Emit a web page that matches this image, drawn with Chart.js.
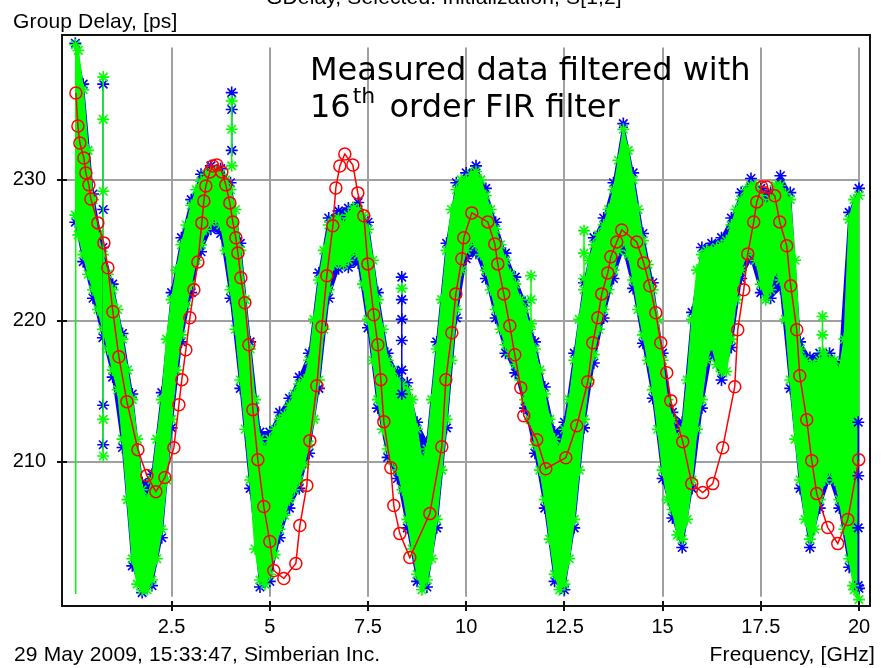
<!DOCTYPE html>
<html><head><meta charset="utf-8">
<script src="https://cdn.jsdelivr.net/npm/chart.js@4/dist/chart.umd.min.js"></script>
<style>
html,body{margin:0;padding:0;background:#fff;}
#wrap{position:relative;width:881px;height:668px;overflow:hidden;background:#fff;}
#c{position:absolute;left:0;top:0;}
.t{position:absolute;white-space:nowrap;font-family:"Liberation Sans",Arial,sans-serif;font-size:21px;line-height:21px;letter-spacing:0.15px;color:#000;}
.ann{position:absolute;white-space:nowrap;font-family:"DejaVu Sans",Verdana,sans-serif;font-size:32px;line-height:32px;color:#000;}
</style></head><body>
<div id="wrap">
<canvas id="c" width="881" height="668"></canvas>
<div class="t" style="left:266px;top:-14px;">GDelay, Selected: Initialization, S[1,2]</div>
<div class="t" style="left:13px;top:10px;">Group Delay, [ps]</div>
<div class="t" style="left:14px;top:643px;">29 May 2009, 15:33:47, Simberian Inc.</div>
<div class="t" style="right:6px;top:643px;">Frequency, [GHz]</div>
<div class="ann" style="left:310px;top:53px;">Measured data filtered with</div>
<div class="ann" style="left:310px;top:90px;">16<span style="font-size:22px;position:relative;top:-14px;margin-left:2px;margin-right:4px;">th</span> order FIR filter</div>
</div>
<script>
// ---- axis ticks ----
const xTicks = [2.5, 5, 7.5, 10, 12.5, 15, 17.5, 20];
const yTicks = [210, 220, 230];
const xRange = [-0.29, 20.28];
const yRange = [199.75, 240.29];
const gridSpanX = [-0.29, 20.0];
const gridSpanY = [200.4, 239.4];

// ---- measured data (green), upper and lower envelope of the trace ----
const greenFreq = [0.05,0.125,0.25,0.375,0.5,0.625,0.75,0.875,1,1.125,1.25,1.375,1.5,1.625,1.75,1.875,2,2.125,2.25,2.375,2.5,2.625,2.75,2.875,3,3.125,3.25,3.375,3.5,3.625,3.75,3.875,4,4.125,4.25,4.375,4.5,4.625,4.75,4.875,5,5.125,5.25,5.375,5.5,5.625,5.75,5.875,6,6.125,6.25,6.375,6.5,6.625,6.75,6.875,7,7.125,7.25,7.375,7.5,7.625,7.75,7.875,8,8.125,8.25,8.375,8.5,8.625,8.75,8.875,9,9.125,9.25,9.375,9.5,9.625,9.75,9.875,10,10.125,10.25,10.375,10.5,10.625,10.75,10.875,11,11.125,11.25,11.375,11.5,11.625,11.75,11.875,12,12.125,12.25,12.375,12.5,12.625,12.75,12.875,13,13.125,13.25,13.375,13.5,13.625,13.75,13.875,14,14.125,14.25,14.375,14.5,14.625,14.75,14.875,15,15.125,15.25,15.375,15.5,15.625,15.75,15.875,16,16.125,16.25,16.375,16.5,16.625,16.75,16.875,17,17.125,17.25,17.375,17.5,17.625,17.75,17.875,18,18.125,18.25,18.375,18.5,18.625,18.75,18.875,19,19.125,19.25,19.375,19.5,19.625,19.75,19.875,20];
const greenHi = [239.6,239.2,236.4,232.1,228.6,226.1,224.7,223.3,222.2,220.8,218.7,216.5,214.4,211.6,208.0,207.3,208.7,211.6,214.4,218.7,221.5,223.6,225.4,226.8,228.2,229.3,229.9,230.4,230.6,230.6,230.4,230.0,229.3,227.9,225.0,221.5,218.0,214.4,211.6,210.9,211.6,212.3,213.0,213.3,214.0,214.8,215.5,215.8,217.2,220.1,222.9,225.0,226.8,227.2,227.3,226.8,227.5,228.0,227.9,227.5,226.5,224.3,221.5,219.4,217.2,216.5,215.8,215.5,215.1,214.4,212.3,210.1,210.9,214.4,218.0,221.5,225.0,227.9,229.3,230.0,230.0,230.4,230.6,230.0,228.9,227.9,226.5,225.4,224.3,223.3,222.6,221.5,220.8,219.4,218.0,216.5,214.8,213.0,211.6,210.9,212.3,214.4,217.2,220.1,222.2,224.3,225.4,226.1,226.8,227.9,229.3,231.4,233.6,232.1,230.0,227.9,225.7,224.0,222.2,220.1,217.2,214.4,213.0,211.6,212.3,215.8,220.1,223.6,224.7,225.0,225.0,225.2,225.4,225.7,226.8,227.9,228.6,229.3,229.6,229.6,228.9,228.2,228.6,229.6,229.6,229.0,228.6,224.3,218.0,217.2,216.9,216.9,217.2,217.6,217.2,217.2,216.5,218.7,227.2,228.6,228.9];
const greenLo = [227.5,226.1,224.7,223.3,222.2,220.8,219.4,218.0,216.5,215.1,211.6,207.3,203.1,201.3,200.9,200.9,201.6,203.1,205.2,208.7,213.0,216.5,219.0,221.1,222.6,224.3,225.4,226.5,227.0,227.3,226.8,225.0,222.2,219.4,215.8,212.3,208.7,203.8,201.6,201.3,202.0,203.4,205.2,206.2,207.3,208.0,208.7,209.8,211.2,213.0,215.8,219.4,222.2,224.0,224.2,224.0,224.3,225.0,224.7,222.6,220.1,217.2,214.4,212.3,210.9,210.1,209.4,208.0,205.9,203.8,202.0,200.9,201.6,203.1,205.9,209.4,213.0,217.2,220.8,223.6,225.0,225.7,225.4,224.7,223.6,222.2,220.8,219.4,218.3,217.6,216.9,215.8,214.4,213.0,211.2,209.4,207.3,204.5,202.0,200.9,201.3,203.1,205.9,209.4,213.0,215.8,217.6,219.4,220.8,222.2,223.6,225.0,225.7,224.7,222.9,220.8,219.0,217.2,215.1,212.3,209.4,207.3,206.6,204.8,204.5,205.9,208.7,212.3,214.4,217.2,218.3,216.9,216.4,216.4,218.7,221.5,223.6,224.7,225.0,224.3,222.6,221.5,222.2,223.6,222.9,220.1,215.8,211.6,208.7,205.9,204.5,205.2,207.3,208.7,209.4,208.7,207.3,205.2,203.1,200.9,200.2];

// ---- measured data (blue), upper and lower envelope ----
const blueFreq = [0.05,0.25,0.5,0.75,1,1.25,1.5,1.75,2,2.25,2.5,2.75,3,3.25,3.5,3.75,4,4.25,4.5,4.75,5,5.25,5.5,5.75,6,6.25,6.5,6.75,7,7.25,7.5,7.75,8,8.25,8.5,8.75,9,9.25,9.5,9.75,10,10.25,10.5,10.75,11,11.25,11.5,11.75,12,12.25,12.5,12.75,13,13.25,13.5,13.75,14,14.25,14.5,14.75,15,15.25,15.5,15.75,16,16.25,16.5,16.75,17,17.25,17.5,17.75,18,18.25,18.5,18.75,19,19.25,19.5,19.75,20];
const blueHi = [239.7,236.8,229.0,225.2,222.6,219.1,214.8,208.5,209.1,214.9,222.0,225.9,228.6,230.4,231.0,230.8,229.8,225.5,218.5,212.1,212.1,213.5,214.5,216.0,217.7,223.4,227.3,227.8,228.0,228.4,227.0,222.0,217.7,216.3,215.6,212.8,211.4,218.5,225.5,229.8,230.5,231.0,229.4,227.0,224.8,223.1,221.3,218.5,215.3,212.1,212.8,217.7,222.7,225.9,227.3,229.8,234.0,230.5,226.2,222.7,217.7,213.5,212.8,220.6,225.2,225.5,225.9,227.3,229.1,230.1,229.4,229.1,230.3,229.1,218.5,217.4,217.7,217.7,217.0,227.7,229.4];
const blueLo = [227.0,224.2,221.6,218.8,216.0,211.0,202.6,200.7,201.2,204.6,212.4,218.5,222.0,224.9,226.5,226.2,221.6,215.2,208.1,201.1,201.5,204.6,206.7,208.1,210.6,215.2,221.6,223.7,223.8,224.1,219.5,213.8,210.3,208.8,205.3,201.5,201.1,205.3,212.4,220.2,224.4,224.8,223.0,220.2,217.7,216.3,213.8,210.6,206.7,201.5,200.9,205.3,212.4,217.0,220.2,223.0,225.1,222.3,218.4,214.5,208.8,206.0,203.9,208.1,213.8,217.7,215.8,218.1,223.0,224.4,222.0,221.6,222.3,215.2,208.1,203.9,206.7,208.8,206.7,202.5,201.0];

// ---- isolated excursions of the measured traces (null = break) ----
const greenEdgeFreq = [0.06, 0.06];
const greenEdgeDelay = [200.6, 239.3];
const greenSpikeFreq = [0.76,0.76,0.76,0.76,0.76, 4.03, 4.03,4.03,4.03, 8.36, 8.36, 11.65, 11.65,11.65,11.65, 13.0, 13.0,13.0,13.0, 19.07, 19.07,19.07,19.07, 19.85, 19.85];
const greenSpikeDelay = [237.3,234.3,229.2,213.0,210.4, null, 235.6,233.6,231.0, null, 222.3, null, 223.2,221.5,219.8, null, 226.4,224.8,223.0, null, 220.3,219.0,217.8, null, 201.2];
const blueSpikeFreq = [0.76,0.76,0.76,0.76, 4.03, 4.03,4.03,4.03, 8.36, 8.36,8.36,8.36,8.36,8.36,8.36, 19.98, 19.98,19.98,19.98,19.98];
const blueSpikeDelay = [236.8,227.9,214.0,211.2, null, 236.2,235.0,232.1, null, 223.1,221.5,220.1,218.6,216.5,214.8, null, 212.8,209.0,205.3,201.2];

// ---- filtered data (red) ----
const redFreq = [0.064,0.115,0.165,0.267,0.318,0.394,0.445,0.623,0.776,0.878,1.005,1.158,1.362,1.642,1.871,2.1,2.329,2.558,2.685,2.761,2.863,2.965,3.067,3.169,3.27,3.321,3.372,3.474,3.55,3.652,3.78,3.88,3.983,4.059,4.136,4.187,4.263,4.365,4.467,4.568,4.696,4.848,5.0,5.103,5.357,5.663,5.765,5.943,6.019,6.197,6.325,6.452,6.605,6.681,6.783,6.91,7.114,7.241,7.394,7.496,7.648,7.75,7.827,7.903,8.081,8.157,8.31,8.565,9.074,9.379,9.481,9.634,9.736,9.888,9.939,10.143,10.55,10.728,10.804,10.957,11.11,11.237,11.39,11.466,11.797,12.027,12.536,12.815,13.095,13.222,13.35,13.451,13.604,13.681,13.833,13.96,14.342,14.52,14.673,14.826,14.953,15.106,15.208,15.513,15.742,16.022,16.277,16.531,16.837,16.913,17.066,17.168,17.32,17.397,17.524,17.651,17.855,17.982,18.16,18.262,18.415,18.491,18.669,18.797,18.924,19.204,19.459,19.713,19.993];
const redDelay = [236.17,233.83,232.62,231.56,230.5,229.65,228.65,226.95,225.53,223.76,220.64,217.45,214.26,210.85,209.01,207.87,208.87,210.99,214.04,215.82,217.94,220.21,222.2,224.18,226.95,228.51,229.57,230.57,230.99,231.06,230.57,229.65,228.37,227.02,225.89,224.82,223.05,221.28,218.3,213.69,210.14,206.81,204.33,202.27,201.7,202.77,205.46,208.3,211.49,215.39,219.57,223.19,226.74,229.43,230.99,231.84,231.06,229.08,227.45,224.04,220.43,218.3,215.82,212.84,209.57,206.88,204.89,203.19,206.31,211.06,215.82,219.15,221.91,224.4,225.89,227.66,227.02,225.46,224.04,221.91,219.65,217.59,215.25,213.26,211.56,209.5,210.28,212.55,215.67,218.44,220.21,221.91,223.4,224.54,225.6,226.45,225.6,224.11,222.48,220.57,218.44,216.31,214.33,211.42,208.44,207.8,208.44,210.99,215.32,219.36,222.2,224.75,227.02,228.44,229.5,229.5,228.87,227.02,225.32,222.48,219.36,216.1,212.98,210.07,207.73,205.32,204.18,205.89,210.14];

const pts = (xs, ys) => xs.map((x, i) => ({x: x, y: ys[i]}));
const GREEN = '#00ff00', BLUE = '#0000ff', RED = '#ff0000';

const starSet = (label, data, color, order, extra) => Object.assign({
  label, data, order,
  borderColor: color, borderWidth: 1.5,
  pointStyle: 'star', pointRadius: 6, pointBorderColor: color, pointBorderWidth: 1.6,
  pointBackgroundColor: color, fill: false, tension: 0, spanGaps: false
}, extra || {});

const datasets = [
  { label: 'filtered', data: pts(redFreq, redDelay), order: 0,
    borderColor: RED, borderWidth: 1.5, pointStyle: 'circle', pointRadius: 6,
    pointBorderColor: RED, pointBorderWidth: 1.5, pointBackgroundColor: 'rgba(0,0,0,0)', fill: false, tension: 0 },
  starSet('green spikes', pts(greenSpikeFreq, greenSpikeDelay), GREEN, 1),
  starSet('blue spikes', pts(blueSpikeFreq, blueSpikeDelay), BLUE, 2),
  starSet('green edge', pts(greenEdgeFreq, greenEdgeDelay), GREEN, 3, {pointRadius: 0}),
  starSet('green hi', pts(greenFreq, greenHi), GREEN, 4, {fill: 5, backgroundColor: GREEN}),
  starSet('green lo', pts(greenFreq, greenLo), GREEN, 5),
  starSet('blue hi', pts(blueFreq, blueHi), BLUE, 6, {fill: 7, backgroundColor: BLUE}),
  starSet('blue lo', pts(blueFreq, blueLo), BLUE, 7)
];

const gridPlugin = {
  id: 'gridlines',
  beforeDatasetsDraw(chart) {
    const {ctx, scales: {x, y}} = chart;
    ctx.save();
    ctx.strokeStyle = '#a0a0a0';
    ctx.lineWidth = 2;
    ctx.beginPath();
    const y0 = y.getPixelForValue(gridSpanY[0]), y1 = y.getPixelForValue(gridSpanY[1]);
    const x0 = x.getPixelForValue(gridSpanX[0]), x1 = x.getPixelForValue(gridSpanX[1]);
    xTicks.forEach(v => { const p = Math.round(x.getPixelForValue(v)); ctx.moveTo(p, y1); ctx.lineTo(p, y0); });
    yTicks.forEach(v => { const p = Math.round(y.getPixelForValue(v)); ctx.moveTo(x0, p); ctx.lineTo(x1, p); });
    ctx.stroke();
    ctx.restore();
  }
};

const frame = {
  id: 'frame',
  afterDraw(chart) {
    const {ctx, chartArea: a, scales} = chart;
    ctx.save();
    ctx.strokeStyle = '#111';
    ctx.lineWidth = 2;
    ctx.strokeRect(a.left, a.top, a.right - a.left, a.bottom - a.top);
    ctx.beginPath();
    xTicks.forEach(v => { const p = Math.round(scales.x.getPixelForValue(v)); ctx.moveTo(p, a.bottom - 5); ctx.lineTo(p, a.bottom + 5); });
    yTicks.forEach(v => { const p = Math.round(scales.y.getPixelForValue(v)); ctx.moveTo(a.left - 5, p); ctx.lineTo(a.left + 5, p); });
    ctx.stroke();
    ctx.restore();
  }
};

const tickFont = {family: '"Liberation Sans", Arial, sans-serif', size: 20};
new Chart(document.getElementById('c'), {
  type: 'line',
  data: {datasets},
  options: {
    responsive: false, animation: false, devicePixelRatio: 1, events: [],
    layout: {padding: {top: 35, right: 11, left: 0, bottom: 0}},
    plugins: {legend: {display: false}, tooltip: {enabled: false}, title: {display: false}},
    scales: {
      x: { type: 'linear', min: xRange[0], max: xRange[1],
        afterBuildTicks: s => { s.ticks = xTicks.map(v => ({value: v})); },
        afterFit: s => { s.height = 62; },
        ticks: {font: tickFont, color: '#000', padding: 9, maxRotation: 0, autoSkip: false, callback: v => String(v)},
        grid: {display: false, drawTicks: false},
        border: {display: false} },
      y: { type: 'linear', min: yRange[0], max: yRange[1],
        afterBuildTicks: s => { s.ticks = yTicks.map(v => ({value: v})); },
        afterFit: s => { s.width = 62; },
        ticks: {font: tickFont, color: '#000', padding: 16, autoSkip: false, callback: v => String(v)},
        grid: {display: false, drawTicks: false},
        border: {display: false} }
    }
  },
  plugins: [gridPlugin, frame]
});
</script>
</body></html>
